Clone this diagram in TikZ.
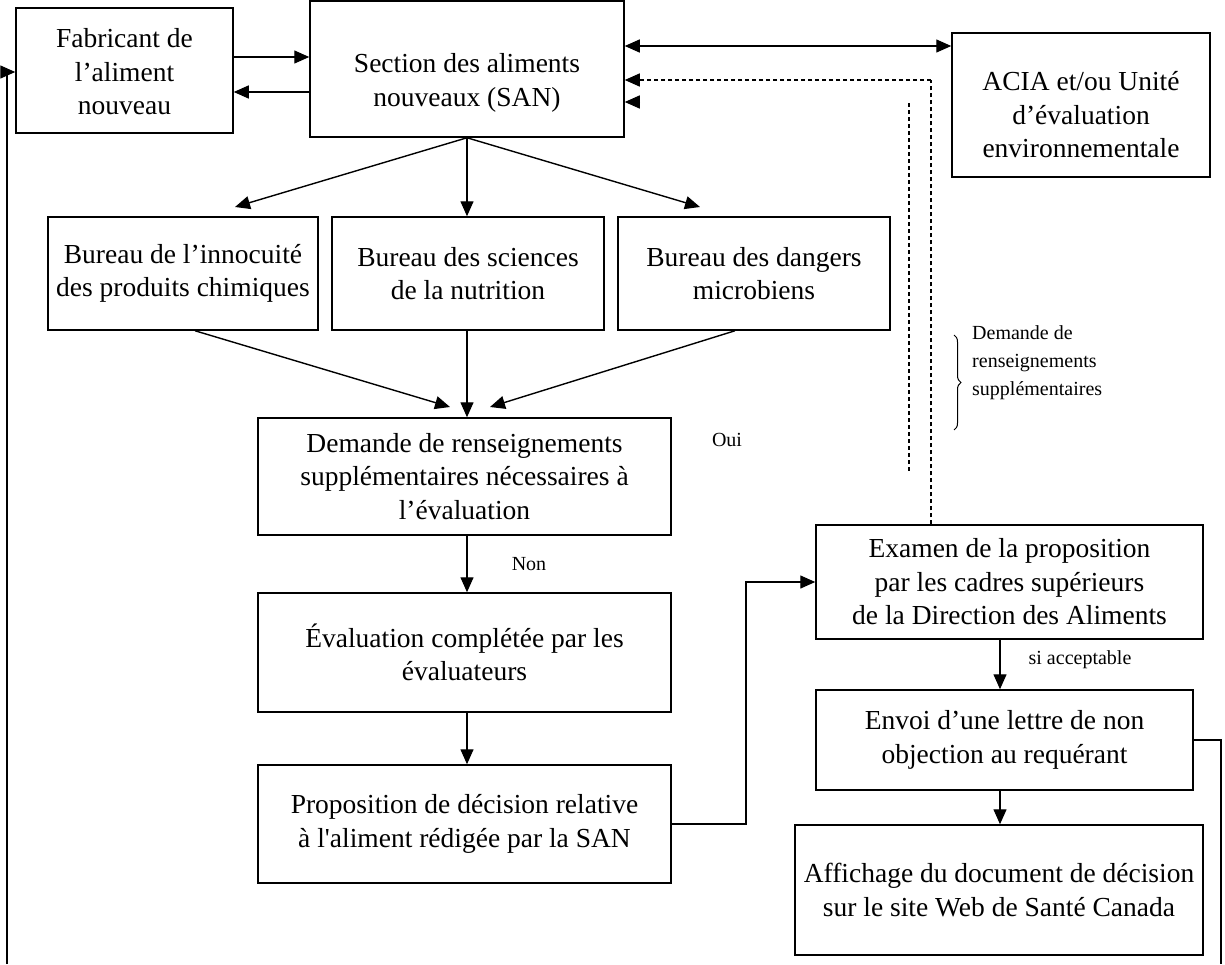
\documentclass[tikz,border=0pt]{standalone}
\usepackage{fontspec}
\setmainfont{Liberation Serif}
\usetikzlibrary{arrows.meta,decorations.pathreplacing}
\begin{document}
\begin{tikzpicture}[x=1pt,y=-1pt,
  box/.style={draw, line width=1.5pt, inner sep=0pt},
  txt/.style={align=center, font=\fontsize{27.5}{33.5}\selectfont, inner sep=0pt},
  small/.style={font=\fontsize{20}{28}\selectfont, inner sep=0pt},
  tip/.style={-{Triangle[length=15pt,width=13pt]}},
  arr/.style={line width=1.4pt, tip},
  ln/.style={line width=1.4pt},
  dsh/.style={line width=1.4pt, dash pattern=on 4pt off 3pt}]
\useasboundingbox (0,0) rectangle (1225,964);

% boxes
\node[box, minimum width=217pt, minimum height=125pt] (fab) at (124.5,70.5) {};
\node[txt] (fabt) at (124.5,72) {Fabricant de\\l’aliment\\nouveau};
\node[box, minimum width=314pt, minimum height=136pt] (san) at (467,69) {};
\node[txt] (sant) at (467,83) {Section des aliments\\nouveaux (SAN)};
\node[box, minimum width=258pt, minimum height=144pt] (acia) at (1081,105) {};
\node[txt] (aciat) at (1081,115) {ACIA et/ou Unité\\d’évaluation\\environnementale};

\node[box, txt, minimum width=270pt, minimum height=113pt] (b1) at (183,273.5) {Bureau de l’innocuité\\des produits chimiques};
\node[box, txt, minimum width=272pt, minimum height=113pt] (b2) at (468,273.5) {Bureau des sciences\\de la nutrition};
\node[box, txt, minimum width=272pt, minimum height=113pt] (b3) at (754,273.5) {Bureau des dangers\\microbiens};

\node[box, txt, minimum width=413pt, minimum height=117pt] (dem) at (464.5,476.5) {Demande de renseignements\\supplémentaires nécessaires à\\l’évaluation};
\node[box, txt, minimum width=413pt, minimum height=119pt] (eval) at (464.5,652.5) {Évaluation complétée par les\\évaluateurs};
\node[box, txt, minimum width=413pt, minimum height=118pt] (prop) at (464.5,824) {Proposition de décision relative\\à l\textquotesingle aliment rédigée par la SAN};

\node[box, txt, minimum width=387pt, minimum height=114pt] (exam) at (1009.5,582) {Examen de la proposition\\par les cadres supérieurs\\de la Direction des Aliments};
\node[box, txt, minimum width=377pt, minimum height=100pt] (envoi) at (1004.5,740) {Envoi d’une lettre de non\\objection au requérant};
\node[box, txt, minimum width=408pt, minimum height=130pt] (aff) at (999,890) {Affichage du document de décision\\sur le site Web de Santé Canada};

% labels
\node[small] (oui) at (727,440) {Oui};
\node[small] (non) at (529,564) {Non};
\node[small] (siacc) at (1080,660) {si acceptable};
\node[small, anchor=west, align=left] (dreq) at (972,363) {Demande de\\renseignements\\supplémentaires};

% coordinates
\coordinate (c1) at (235,207);
\coordinate (c3) at (700,207);
\coordinate (d1) at (450,407);
\coordinate (d3) at (490,407);
\coordinate (turn) at (746,0);
\coordinate (rt) at (1221,740);
\coordinate (rb) at (1221,964);
\coordinate (lb) at (7,964);
\coordinate (lt) at (7,72);
\coordinate (dtop) at (931,80);
\coordinate (dv1) at (909,103);
\coordinate (dv2) at (909,472);
\coordinate (lone) at (640,102);
\coordinate (bt) at (954,335);
\coordinate (bb) at (954,430);

% top connectors
\draw[arr] (fab.east |- 0,57) -- (san.west |- 0,57);
\draw[arr] (san.west |- 0,92) -- (fab.east |- 0,92);
\draw[line width=1.4pt, {Triangle[length=15pt,width=13pt]}-{Triangle[length=15pt,width=13pt]}] (san.east |- 0,46) -- (acia.west |- 0,46);
\draw[dsh] (exam.north -| dtop) -- (dtop);
\draw[dsh, tip] (dtop) -- (san.east |- dtop);
\draw[arr] (lone) -- (san.east |- lone);
\draw[dsh] (dv1) -- (dv2);
\draw[line width=1pt, decorate, decoration={brace, amplitude=7pt}] (bt) -- (bb);

% SAN to bureaus
\draw[arr] (san.south) -- (c1);
\draw[arr] (san.south) -- (b2.north -| san.south);
\draw[arr] (san.south) -- (c3);

% bureaus to demande
\draw[arr] (b1.south -| 195,0) -- (d1);
\draw[arr] (b2.south -| 467,0) -- (dem.north -| 467,0);
\draw[arr] (b3.south -| 735,0) -- (d3);

% vertical chain
\draw[arr] (dem.south -| 467,0) -- (eval.north -| 467,0);
\draw[arr] (eval.south -| 467,0) -- (prop.north -| 467,0);
\draw[arr] (prop.east) -- (prop.east -| turn) |- (exam.west);
\draw[arr] (exam.south -| 1000,0) -- (envoi.north -| 1000,0);
\draw[arr] (envoi.south -| 1000,0) -- (aff.north -| 1000,0);

% outer lines
\draw[ln] (envoi.east) -- (rt) -- (rb);
\draw[arr] (lb) -- (lt) -- (fab.west |- lt);
\end{tikzpicture}
\end{document}
